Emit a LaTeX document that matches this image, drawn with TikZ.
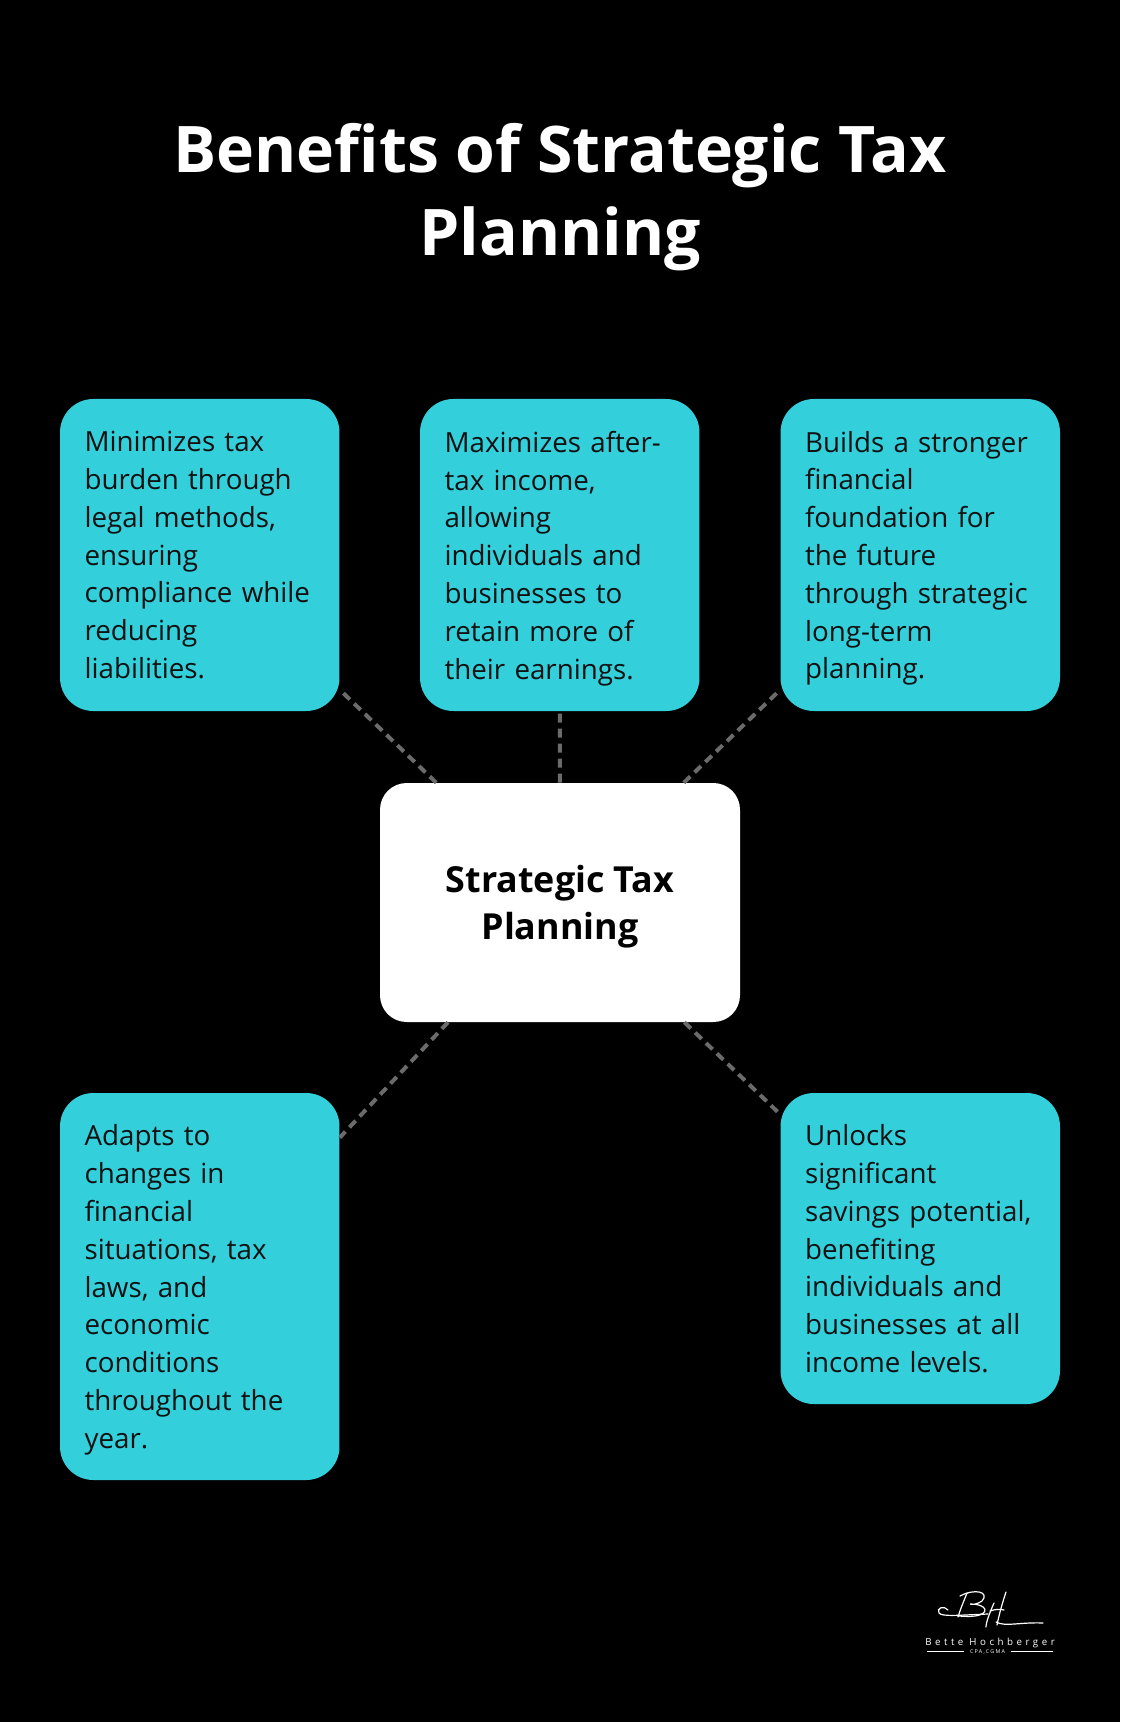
\documentclass[tikz,border=0pt]{standalone}
\usepackage{fontspec}
\setmainfont{Open Sans}

\definecolor{tealbox}{HTML}{33CFDB}
\definecolor{linkgray}{HTML}{6B6B6B}
\definecolor{boxtext}{HTML}{111111}

% last line of a box, with no depth below the baseline
\newcommand{\lastline}[1]{\raisebox{0pt}[\height][0pt]{#1}}

\tikzset{
    benefit/.style={fill=tealbox, rounded corners=25pt, text=boxtext, text width=172.8pt,
        inner xsep=18.4pt, inner ysep=0pt, minimum height=234pt, align=left,
        font=\fontsize{20.8}{28.35}\selectfont},
    hub/.style={fill=white, rounded corners=20pt, minimum width=270pt, minimum height=179.25pt,
        align=center, font=\bfseries\fontsize{26.9}{35.25}\selectfont},
    heading/.style={anchor=north, inner sep=0pt, text=white, align=center,
        font=\bfseries\fontsize{48.2}{62.25}\selectfont},
    link/.style={draw=linkgray, line width=3pt, dash pattern=on 6.75pt off 4.5pt},
    logoline/.style={draw=white, line width=0.5pt},
}

\begin{document}
\begin{tikzpicture}[x=0.75pt, y=-0.75pt]
        \fill[black] (0, 0) rectangle (1120, 1722);
        \useasboundingbox (0, 0) rectangle (1120, 1722);
        \node[heading] (title) at (560, 123) {Benefits of Strategic Tax\\Planning};
        % benefits
        \node[benefit] (tl) at (199.75, 555) {Minimizes tax\\burden through\\legal methods,\\ensuring\\compliance while\\reducing\\\lastline{liabilities.}};
        \node[benefit] (tm) at (559.75, 555) {Maximizes after-\\tax income,\\allowing\\individuals and\\businesses to\\retain more of\\\lastline{their earnings.}};
        \node[benefit] (tr) at (920.25, 555) {Builds a stronger\\financial\\foundation for\\the future\\through strategic\\long-term\\\lastline{planning.}};
        \node[benefit, minimum height=290.25pt] (bl) at (199.75, 1286.5) {Adapts to\\changes in\\financial\\situations, tax\\laws, and\\economic\\conditions\\throughout the\\\lastline{year.}};
        \node[benefit, minimum height=233.25pt] (br) at (920.25, 1248.5) {Unlocks\\significant\\savings potential,\\benefiting\\individuals and\\businesses at all\\\lastline{income levels.}};
        \node[hub] (hub) at (560, 902.5) {Strategic Tax\\\lastline{Planning}};
        \draw[link] (hub) -- (tl);
        \draw[link] (hub) -- (tm);
        \draw[link] (hub) -- (tr);
        \draw[link] (hub) -- (bl);
        \draw[link] (hub) -- (br);
        % logo
        \begin{scope}[draw=white, line width=0.9pt, line cap=round]
            \draw (948, 1610) .. controls (944, 1605) and (936, 1608) .. (939, 1613) .. controls (942, 1617) and (960, 1615) .. (988, 1614);
            \draw (967, 1593) .. controls (963, 1603) and (960, 1610) .. (958, 1617);
            \draw (960, 1596) .. controls (975, 1588) and (990, 1592) .. (982, 1601) .. controls (978, 1604) and (972, 1605) .. (970, 1604) .. controls (988, 1604) and (990, 1614) .. (975, 1616) .. controls (968, 1617) and (962, 1616) .. (958, 1616);
            \draw (994, 1603) .. controls (990, 1612) and (986, 1622) .. (986, 1627);
            \draw (1006, 1592) .. controls (1002, 1604) and (999, 1615) .. (997, 1625);
            \draw (990, 1611) .. controls (996, 1609) and (1000, 1609) .. (1004, 1610);
            \draw (996, 1622) .. controls (1005, 1627) and (1020, 1622) .. (1043, 1623);
        \end{scope}
        \node[anchor=base, inner sep=0pt, text=white, font=\fontsize{7.3}{8}\selectfont\addfontfeature{LetterSpace=36}] (logoname) at (990, 1645) {Bette Hochberger};
        \node[anchor=base, inner sep=0pt, text=white, font=\fontsize{4}{5}\selectfont\addfontfeature{LetterSpace=24}] (logocred) at (987.5, 1653.5) {CPA,CGMA};
        \draw[logoline] (927, 1651.5) -- (964, 1651.5);
        \draw[logoline] (1011, 1651.5) -- (1053, 1651.5);
    \end{tikzpicture}
\end{document}
